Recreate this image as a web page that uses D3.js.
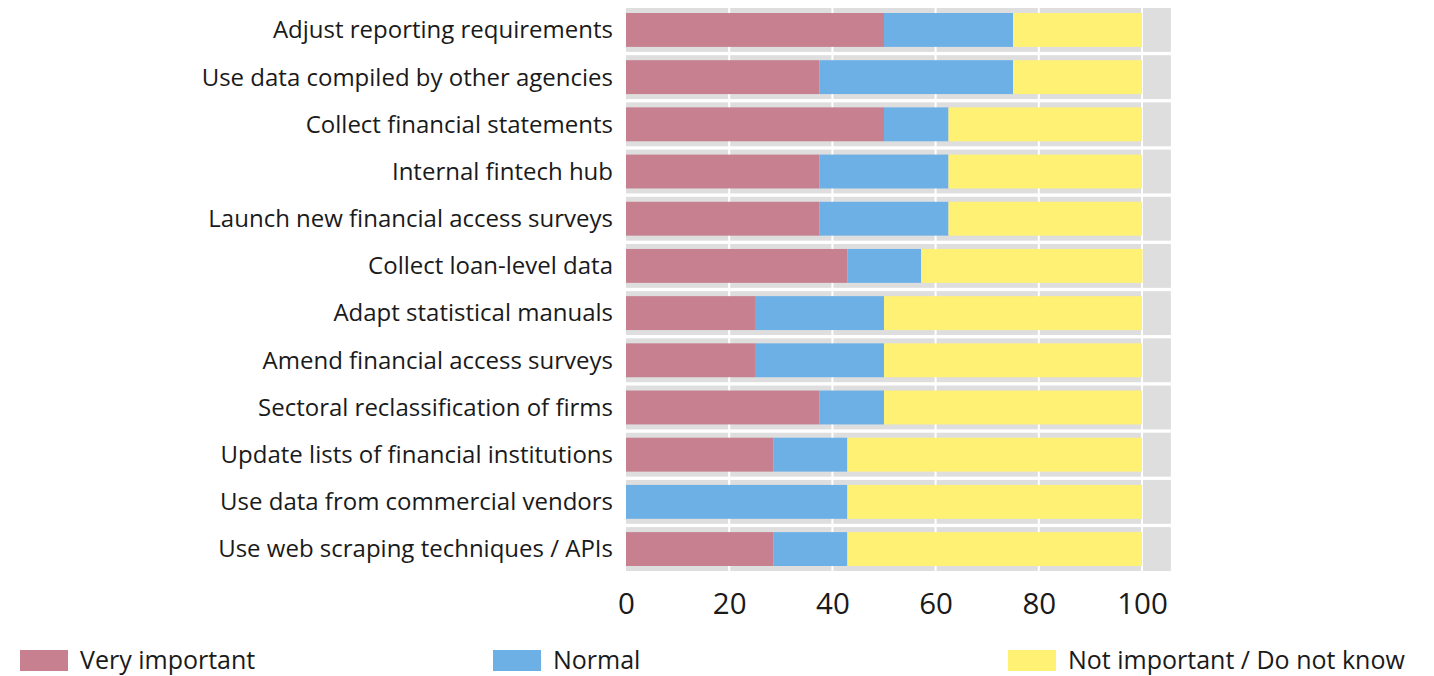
<!DOCTYPE html>
<html>
  <head>
    <script src="https://d3js.org/d3.v7.min.js"></script>
  </head>
  <style>
    body { margin: 0; background: #fff; }
    text { font-family: "Open Sans", "Noto Sans", sans-serif; fill: #1a1a1a; }
  </style>
  <body>
    <svg></svg>
    <script>
      // categories, top to bottom
      const categories = [
        "Adjust reporting requirements",
        "Use data compiled by other agencies",
        "Collect financial statements",
        "Internal fintech hub",
        "Launch new financial access surveys",
        "Collect loan-level data",
        "Adapt statistical manuals",
        "Amend financial access surveys",
        "Sectoral reclassification of firms",
        "Update lists of financial institutions",
        "Use data from commercial vendors",
        "Use web scraping techniques / APIs"
      ];
      const veryImportant = [50, 37.5, 50, 37.5, 37.5, 42.9, 25, 25, 37.5, 28.6, 0, 28.6];
      const normal = [25, 37.5, 12.5, 25, 25, 14.3, 25, 25, 12.5, 14.3, 42.9, 14.3];
      const notImportant = [25, 25, 37.5, 37.5, 37.5, 42.9, 50, 50, 50, 57.1, 57.1, 57.1];
      const seriesNames = ["Very important", "Normal", "Not important / Do not know"];
      const seriesColors = ["#c6808f", "#6cb0e6", "#fff173"];
      const xTicks = [0, 20, 40, 60, 80, 100];

      const W = 1434, H = 676;
      const svg = d3.select("svg").attr("width", W).attr("height", H);

      const x = d3.scaleLinear().domain([0, 100]).range([626, 1142]);
      const y = d3.scaleBand().domain(categories).range([8, 571]).paddingInner(0.07);

      // rows as stacked data
      const rows = categories.map((c, i) => ({
        cat: c, vals: [veryImportant[i], normal[i], notImportant[i]]
      }));

      // gray background bands
      svg.selectAll(".band").data(categories).enter().append("rect")
        .attr("class", "band")
        .attr("x", x(0))
        .attr("y", d => y(d))
        .attr("width", x(105.6) - x(0))
        .attr("height", y.bandwidth())
        .attr("fill", "#dedede");

      // white vertical grid lines
      svg.selectAll(".grid").data(xTicks.slice(1)).enter().append("line")
        .attr("x1", d => x(d)).attr("x2", d => x(d))
        .attr("y1", 8).attr("y2", 571)
        .attr("stroke", "#fff").attr("stroke-width", 2);

      // stacked bars
      const inset = 5;
      rows.forEach(r => {
        let acc = 0;
        r.vals.forEach((v, j) => {
          if (v > 0) {
            svg.append("rect")
              .attr("x", x(acc))
              .attr("y", y(r.cat) + inset)
              .attr("width", x(acc + v) - x(acc))
              .attr("height", y.bandwidth() - inset * 2)
              .attr("fill", seriesColors[j]);
          }
          acc += v;
        });
      });

      // category labels
      svg.selectAll(".lab").data(categories).enter().append("text")
        .attr("x", 613)
        .attr("y", d => y(d) + y.bandwidth() / 2)
        .attr("dy", "0.35em")
        .attr("text-anchor", "end")
        .style("font-size", "24px")
        .text(d => d);

      // x axis labels
      const xAxis = svg.append("g").attr("transform", "translate(0,592)")
        .call(d3.axisBottom(x).tickValues(xTicks).tickSize(0).tickPadding(0));
      xAxis.select(".domain").remove();
      xAxis.selectAll("text")
        .attr("dy", "0.35em").attr("y", 12)
        .style("font-size", "29.5px")
        .style("font-family", "'Open Sans', 'Noto Sans', sans-serif")
        .attr("fill", "#1a1a1a");

      // legend
      const legX = [20, 493, 1008];
      const leg = svg.selectAll(".leg").data(seriesNames).enter().append("g")
        .attr("transform", (d, i) => `translate(${legX[i]},650)`);
      leg.append("rect").attr("width", 48).attr("height", 21)
        .attr("fill", (d, i) => seriesColors[i]);
      leg.append("text").attr("x", 60).attr("y", 10).attr("dy", "0.35em")
        .style("font-size", "25px").text(d => d);
    </script>
  </body>
</html>
